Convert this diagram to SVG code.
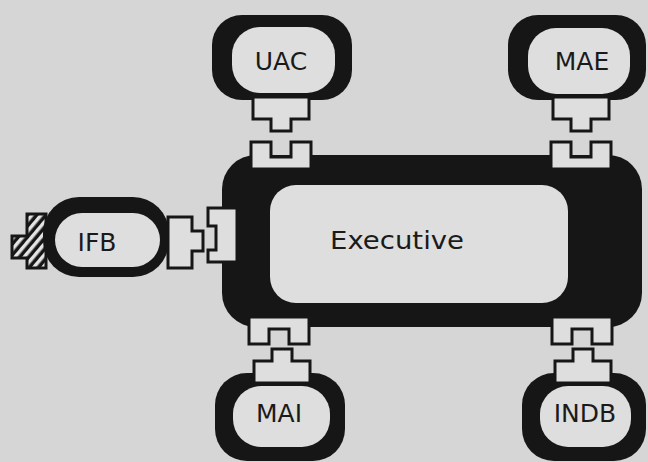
<svg xmlns="http://www.w3.org/2000/svg" width="648" height="462" viewBox="0 0 648 462">
<defs>
<style>
.outer{fill:#161616}
.inner{fill:#dedede}
.lbl{font-family:"DejaVu Sans","Liberation Sans",sans-serif;font-size:25px;fill:#1a1a1a;text-anchor:middle;dominant-baseline:central}
.conn{fill:#dedede;stroke:#161616;stroke-width:3;stroke-linejoin:miter}
</style>
<path id="plug" d="M-28,0 H28 V22 H10 V34 H-10 V22 H-28 Z"/>
<path id="sock" d="M-30,0 H-10 V15 H10 V0 H30 V27 H-30 Z"/>
<pattern id="hatch" width="7" height="7" patternUnits="userSpaceOnUse" patternTransform="rotate(40)">
<rect width="7" height="7" fill="#161616"/>
<rect width="3.5" height="7" fill="#e4e4e4"/>
</pattern>
</defs>
<rect width="648" height="462" fill="#d6d6d6"/>

<g id="Executive">
<rect class="outer" x="222" y="155" width="420" height="172" rx="34"/>
<rect class="inner" x="270" y="185" width="298" height="118" rx="26"/>
<text class="lbl" x="397" y="240" textLength="134" lengthAdjust="spacingAndGlyphs">Executive</text>
</g>

<g id="UAC">
<rect class="outer" x="212" y="15" width="140" height="85" rx="30"/>
<rect class="inner" x="232" y="27" width="103" height="66" rx="28"/>
<text class="lbl" x="281" y="61">UAC</text>
</g>

<g id="MAE">
<rect class="outer" x="508" y="15" width="138" height="85" rx="30"/>
<rect class="inner" x="528" y="28" width="102" height="66" rx="28"/>
<text class="lbl" x="582" y="61">MAE</text>
</g>

<g id="IFB">
<path d="M12,236 H27 V214 H46 V268 H27 V258 H12 Z" fill="url(#hatch)" stroke="#161616" stroke-width="3"/>
<rect class="outer" x="43" y="197" width="126" height="80" rx="36"/>
<rect class="inner" x="55" y="213" width="105" height="54" rx="27"/>
<text class="lbl" x="97" y="242">IFB</text>
</g>

<g id="MAI">
<rect class="outer" x="215" y="373" width="130" height="88" rx="32"/>
<rect class="inner" x="233" y="386" width="97" height="61" rx="28"/>
<text class="lbl" x="279" y="413">MAI</text>
</g>

<g id="INDB">
<rect class="outer" x="522" y="373" width="124" height="88" rx="32"/>
<rect class="inner" x="540" y="386" width="91" height="61" rx="28"/>
<text class="lbl" x="585" y="413">INDB</text>
</g>

<g id="connectors">
<use href="#plug" class="conn" transform="translate(281,97)"/>
<use href="#sock" class="conn" transform="translate(281,142)"/>
<use href="#plug" class="conn" transform="translate(581,97)"/>
<use href="#sock" class="conn" transform="translate(581,142)"/>
<use href="#sock" class="conn" transform="translate(279,344) scale(1,-1)"/>
<use href="#plug" class="conn" transform="translate(282,383) scale(1,-1)"/>
<use href="#sock" class="conn" transform="translate(582,344) scale(1,-1)"/>
<use href="#plug" class="conn" transform="translate(583,383) scale(1,-1)"/>
<path class="conn" d="M168,217 H192 V231 H203 V251 H192 V268 H168 Z"/>
<path class="conn" d="M208,208 H237 V262 H208 V250 H216 V226 H208 Z"/>
</g>
</svg>
